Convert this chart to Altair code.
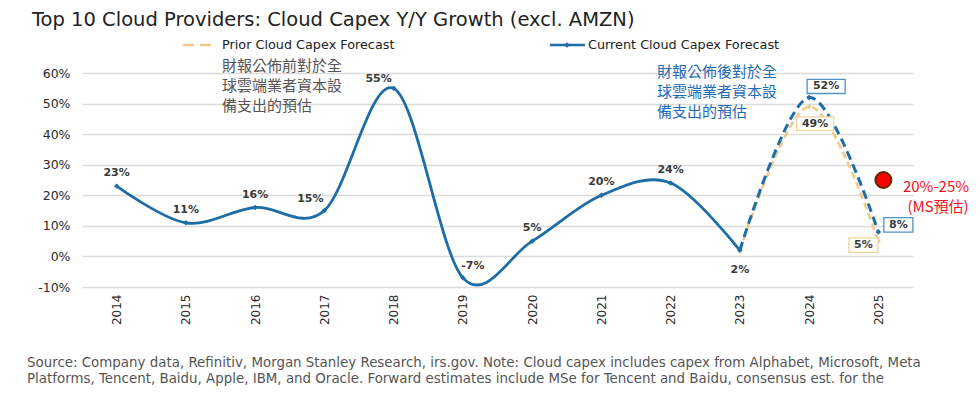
import altair as alt
import pandas as pd

# ---------------- data ----------------
years = [str(y) for y in range(2014, 2026)]
current = [23, 11, 16, 15, 55, -7, 5, 20, 24, 2, 52, 8]
prior_years = ["2023", "2024", "2025"]
prior = [2, 49, 5]
ms_year = "2025"
ms_value = 25

y_ticks = [-10, 0, 10, 20, 30, 40, 50, 60]

title_text = "Top 10 Cloud Providers: Cloud Capex Y/Y Growth (excl. AMZN)"
legend_prior = "Prior Cloud Capex Forecast"
legend_current = "Current Cloud Capex Forecast"
note_prior = ["財報公佈前對於全", "球雲端業者資本設", "備支出的預估"]
note_current = ["財報公佈後對於全", "球雲端業者資本設", "備支出的預估"]
note_ms = ["20%-25%", "(MS預估)"]
source_lines = [
    "Source: Company data, Refinitiv, Morgan Stanley Research, irs.gov. Note: Cloud capex includes capex from Alphabet, Microsoft, Meta",
    "Platforms, Tencent, Baidu, Apple, IBM, and Oracle. Forward estimates include MSe for Tencent and Baidu, consensus est. for the",
    "others",
]

cur_df = pd.DataFrame({"year": years, "value": current,
                       "label": [f"{v}%" for v in current]})
cur_df["yr"] = cur_df["year"].astype(int)
pri_df = pd.DataFrame({"year": prior_years, "value": prior,
                       "label": [f"{v}%" for v in prior]})
pri_df["yr"] = pri_df["year"].astype(int)
ms_df = pd.DataFrame({"year": [ms_year], "value": [ms_value]})
one = pd.DataFrame({"a": [0]})

# ---------------- style ----------------
BLUE = "#1D6EA6"
TAN = "#F1C98A"
BOX_BLUE = "#4F92C6"
BOX_TAN = "#F2D39E"
LABEL_COLOR = "#3a3a3a"
W, H = 831, 214
PAD_L, PAD_T = 74, 65
OX, OY = 8 + PAD_L, 8 + PAD_T   # page position of plot origin

xs = alt.Scale(type="point", padding=0.5)
ys = alt.Scale(domain=[-10, 60], nice=False, zero=False)

X = alt.X("year:O", scale=xs, sort=years,
          axis=alt.Axis(title=None, labelAngle=270, labelAlign="right",
                        labelBaseline="middle", labelFont="DejaVu Sans",
                        labelFontSize=12, labelColor="#2a2a2a", ticks=False,
                        domain=False, grid=False, labelPadding=7))
Y = alt.Y("value:Q", scale=ys,
          axis=alt.Axis(title=None, values=y_ticks, tickCount=8,
                        labelOverlap=False,
                        labelExpr="datum.value + '%'", ticks=False,
                        domain=False, labelPadding=12, labelFont="DejaVu Sans",
                        labelFontSize=12.5, labelColor="#2a2a2a",
                        gridColor="#dcdcdc", gridWidth=1.3))
Xn = alt.X("year:O", scale=xs, sort=years)
Yn = alt.Y("value:Q", scale=ys)

layers = []

# prior forecast dashed line
layers.append(alt.Chart(pri_df).mark_line(
    color=TAN, strokeWidth=2.6, strokeDash=[7, 4], interpolate="cardinal"
).encode(x=X, y=Y))

# current: solid history, dashed forecast
layers.append(alt.Chart(cur_df).transform_filter("datum.yr <= 2023").mark_line(
    color=BLUE, strokeWidth=2.8, interpolate="cardinal"
).encode(x=Xn, y=Yn))
layers.append(alt.Chart(cur_df).transform_filter("datum.yr >= 2023").mark_line(
    color=BLUE, strokeWidth=3, strokeDash=[9, 5], interpolate="cardinal"
).encode(x=Xn, y=Yn))

# markers
layers.append(alt.Chart(cur_df).mark_point(
    shape="diamond", filled=True, color=BLUE, size=30, opacity=1
).encode(x=Xn, y=Yn))
layers.append(alt.Chart(pri_df).transform_filter("datum.yr >= 2024").mark_point(
    shape="diamond", filled=True, color=TAN, size=26, opacity=1
).encode(x=Xn, y=Yn))


def labels(df, cond, dx, dy):
    return alt.Chart(df).transform_filter(cond).mark_text(
        font="DejaVu Sans", fontWeight="bold", fontSize=11, color=LABEL_COLOR,
        dx=dx, dy=dy, align="center", baseline="middle"
    ).encode(x=Xn, y=Yn, text="label:N")


layers.append(labels(cur_df, "indexof([2014,2015,2016,2020,2021,2022], datum.yr) >= 0", 0, -13))
layers.append(labels(cur_df, "datum.yr == 2018", -15, -9))
layers.append(labels(cur_df, "datum.yr == 2017", -14, -12))
layers.append(labels(cur_df, "datum.yr == 2019", 10, -12))
layers.append(labels(cur_df, "datum.yr == 2023", 0, 20))

# boxed forecast labels
WIDE = "M-1,-0.37H1V0.37H-1Z"
NARROW = "M-1,-0.5H1V0.5H-1Z"


def boxed(df, cond, dx, dy, stroke, shape, size):
    box = alt.Chart(df).transform_filter(cond).mark_point(
        shape=shape, size=size, filled=True, fill="white", stroke=stroke,
        strokeWidth=1.3, opacity=1, fillOpacity=1, xOffset=dx, yOffset=dy
    ).encode(x=Xn, y=Yn)
    t = alt.Chart(df).transform_filter(cond).mark_text(
        font="DejaVu Sans", fontWeight="bold", fontSize=11, color=LABEL_COLOR,
        dx=dx, dy=dy, align="center", baseline="middle"
    ).encode(x=Xn, y=Yn, text="label:N")
    return [box, t]


layers += boxed(cur_df, "datum.yr == 2024", 17, -11, BOX_BLUE, WIDE, 1444)
layers += boxed(pri_df, "datum.yr == 2024", 6, 17, BOX_TAN, WIDE, 1369)
layers += boxed(cur_df, "datum.yr == 2025", 20, -7, BOX_BLUE, NARROW, 841)
layers += boxed(pri_df, "datum.yr == 2025", -15, 4, BOX_TAN, NARROW, 841)

# MS estimate marker
layers.append(alt.Chart(ms_df).mark_point(
    shape="circle", filled=True, fill="#FF0000", stroke="#5A2A08",
    strokeWidth=2, size=254, opacity=1, xOffset=5
).encode(x=Xn, y=Yn))


def text_at(text, px, py, size, color, font, align="left", weight="normal"):
    return alt.Chart(one).mark_text(
        font=font, fontSize=size, color=color, align=align,
        baseline="middle", fontWeight=weight
    ).encode(x=alt.value(px - OX), y=alt.value(py - OY), text=alt.value(text))


# title
layers.append(text_at(title_text, 32, 20, 19.5, "#222222", "DejaVu Sans"))

# legend
layers.append(alt.Chart(one).mark_rule(
    color=TAN, strokeWidth=2.6, strokeDash=[11, 6]
).encode(x=alt.value(183 - OX), x2=alt.value(214 - OX), y=alt.value(45 - OY)))
layers.append(text_at(legend_prior, 222, 45, 12.8, "#222222", "DejaVu Sans"))
layers.append(alt.Chart(one).mark_rule(color=BLUE, strokeWidth=2.6).encode(
    x=alt.value(550 - OX), x2=alt.value(585 - OX), y=alt.value(45 - OY)))
layers.append(alt.Chart(one).mark_point(
    shape="diamond", filled=True, color=BLUE, size=30, opacity=1
).encode(x=alt.value(567 - OX), y=alt.value(45 - OY)))
layers.append(text_at(legend_current, 588, 45, 12.8, "#222222", "DejaVu Sans"))

# annotations
for i, line in enumerate(note_prior):
    layers.append(text_at(line, 222, 66 + 20 * i, 15, "#555555", "Noto Sans CJK TC"))
for i, line in enumerate(note_current):
    layers.append(text_at(line, 657, 72 + 20 * i, 15, "#1F6BB5", "Noto Sans CJK TC"))
layers.append(text_at(note_ms[0], 936, 187, 15, "#F0141E", "Noto Sans CJK TC", align="center"))
layers.append(text_at(note_ms[1], 938, 207, 15, "#F0141E", "Noto Sans CJK TC", align="center"))

# source
for i, line in enumerate(source_lines):
    layers.append(text_at(line, 27, 363 + 16 * i, 13.4, "#555555", "DejaVu Sans"))

chart = alt.layer(*layers).properties(
    width=W, height=H,
    padding={"left": PAD_L, "top": PAD_T, "right": 59, "bottom": 100},
    autosize=alt.AutoSizeParams(type="none"),
    background="white",
).configure_view(stroke=None).configure_axisY(labelOverlap=False)

chart.save("out.html", embed_options={"renderer": "svg", "actions": False})
